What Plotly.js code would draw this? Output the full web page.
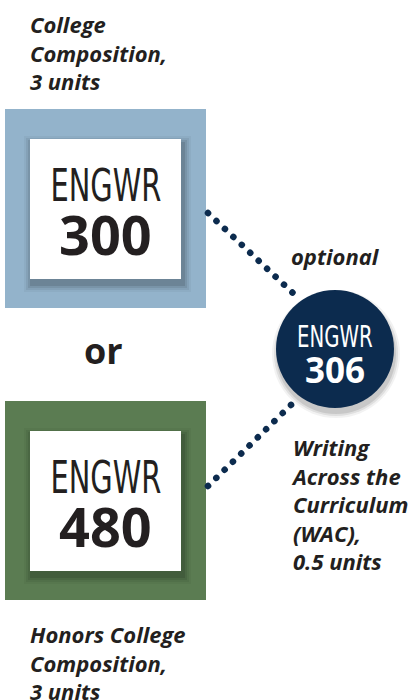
<!DOCTYPE html>
<html><head><meta charset="utf-8">
<script src="https://cdn.plot.ly/plotly-3.0.1.min.js"></script>
<style>
html,body{margin:0;padding:0;background:#fff;}
#chart{width:409px;height:700px;}
.scatterlayer path.js-line{stroke-linecap:round;}
</style>
</head><body>
<div id="chart"></div>
<script>
// ---- data ----
const prefix = "ENGWR";
const mainCourses = ["300", "480"];
const mainDescriptions = ["College<br>Composition,<br>3 units", "Honors College<br>Composition,<br>3 units"];
const optionalCourse = "306";
const optionalLabel = "optional";
const optionalDescription = "Writing<br>Across the<br>Curriculum<br>(WAC),<br>0.5 units";
const joinWord = "or";

// ---- layout geometry (pixels, y downward) ----
const boxTops = [109, 401];
const boxFill = ["#93b3cb", "#5b7c52"];
const outerL = 5, outerR = 206, outerH = 199;
const innerL = 30, innerR = 181, innerOff = 30, innerH = 140;
const circ = {cx: 335, cy: 349, r: 59};
const navy = "#0c2b4e";
const ink = "#231f20";
const condensed = "'Liberation Sans Narrow','DejaVu Sans Condensed','Roboto Condensed','Arial Narrow','Liberation Sans',sans-serif";
const labelFont = "'Open Sans','Noto Sans',sans-serif";

const shapes = [];
const annotations = [];
const traces = [];

mainCourses.forEach((c, i) => {
  const t = boxTops[i];
  shapes.push({type: "rect", layer: "below", x0: outerL, x1: outerR, y0: t, y1: t + outerH, fillcolor: boxFill[i], line: {width: 0}});
  [[8, 0.04], [6, 0.06], [4, 0.08], [2, 0.1]].forEach(([s, o]) => {
    shapes.push({type: "rect", layer: "below", x0: innerL - s + 2, x1: innerR + s + 2, y0: t + innerOff - s + 5, y1: t + innerOff + innerH + s + 5,
      fillcolor: `rgba(0,0,0,${o})`, line: {width: 0}});
  });
  shapes.push({type: "rect", layer: "below", x0: innerL, x1: innerR, y0: t + innerOff, y1: t + innerOff + innerH, fillcolor: "#ffffff", line: {width: 0}});
  annotations.push({x: (innerL + innerR) / 2, y: t + innerOff + 46, text: prefix, showarrow: false, xanchor: "center", yanchor: "middle",
    font: {family: condensed, size: 44, color: ink}});
  annotations.push({x: (innerL + innerR) / 2, y: t + innerOff + 95, text: "<b>" + c + "</b>", showarrow: false, xanchor: "center", yanchor: "middle",
    font: {family: labelFont, size: 54, color: ink}});
});

annotations.push({x: 28, y: 52, text: "<b><i>" + mainDescriptions[0] + "</i></b>", showarrow: false, xanchor: "left", yanchor: "middle", align: "left",
  font: {family: labelFont, size: 22, color: ink}});
annotations.push({x: 28, y: 662, text: "<b><i>" + mainDescriptions[1] + "</i></b>", showarrow: false, xanchor: "left", yanchor: "middle", align: "left",
  font: {family: labelFont, size: 22, color: ink}});
annotations.push({x: 103, y: 350, text: "<b>" + joinWord + "</b>", showarrow: false, xanchor: "center", yanchor: "middle",
  font: {family: labelFont, size: 36, color: ink}});

traces.push({x: [outerR + 2, circ.cx - 40], y: [boxTops[0] + 104, circ.cy - 54], mode: "lines", hoverinfo: "skip",
  line: {color: navy, width: 6.5, dash: "0.1px,11.5px"}});
traces.push({x: [outerR + 2, circ.cx - 40], y: [boxTops[1] + 85, circ.cy + 52], mode: "lines", hoverinfo: "skip",
  line: {color: navy, width: 6.5, dash: "0.1px,11.5px"}});

[[5, 0.05], [3, 0.08], [1, 0.1]].forEach(([s, o]) => {
  shapes.push({type: "circle", layer: "above", x0: circ.cx - circ.r - s + 1, x1: circ.cx + circ.r + s + 1, y0: circ.cy - circ.r - s + 5, y1: circ.cy + circ.r + s + 5,
    fillcolor: `rgba(0,0,0,${o})`, line: {width: 0}});
});
shapes.push({type: "circle", layer: "above", x0: circ.cx - circ.r, x1: circ.cx + circ.r, y0: circ.cy - circ.r, y1: circ.cy + circ.r, fillcolor: navy, line: {width: 0}});
annotations.push({x: circ.cx, y: circ.cy - 13, text: prefix, showarrow: false, xanchor: "center", yanchor: "middle",
  font: {family: condensed, size: 30, color: "#ffffff"}});
annotations.push({x: circ.cx, y: circ.cy + 20, text: "<b>" + optionalCourse + "</b>", showarrow: false, xanchor: "center", yanchor: "middle",
  font: {family: labelFont, size: 35, color: "#ffffff"}});

annotations.push({x: 289, y: 256, text: "<b><i>" + optionalLabel + "</i></b>", showarrow: false, xanchor: "left", yanchor: "middle",
  font: {family: labelFont, size: 22, color: ink}});
annotations.push({x: 289, y: 504, text: "<b><i>" + optionalDescription + "</i></b>", showarrow: false, xanchor: "left", yanchor: "middle", align: "left",
  font: {family: labelFont, size: 22, color: ink}});

const layout = {
  width: 409, height: 700,
  margin: {l: 0, r: 0, t: 0, b: 0, pad: 0},
  paper_bgcolor: "#ffffff", plot_bgcolor: "#ffffff",
  showlegend: false,
  xaxis: {range: [0, 409], visible: false, fixedrange: true},
  yaxis: {range: [700, 0], visible: false, fixedrange: true},
  shapes: shapes,
  annotations: annotations
};
Plotly.newPlot("chart", traces, layout, {displayModeBar: false, staticPlot: true}).then(gd => {
  // condense the "ENGWR" prefix like the narrow typeface in the original
  gd.querySelectorAll("text.annotation-text").forEach(el => {
    if (el.textContent === prefix) {
      el.style.transformBox = "fill-box";
      el.style.transformOrigin = "center";
      el.style.transform = "scaleX(0.73)";
    }
  });
});
</script>
</body></html>
